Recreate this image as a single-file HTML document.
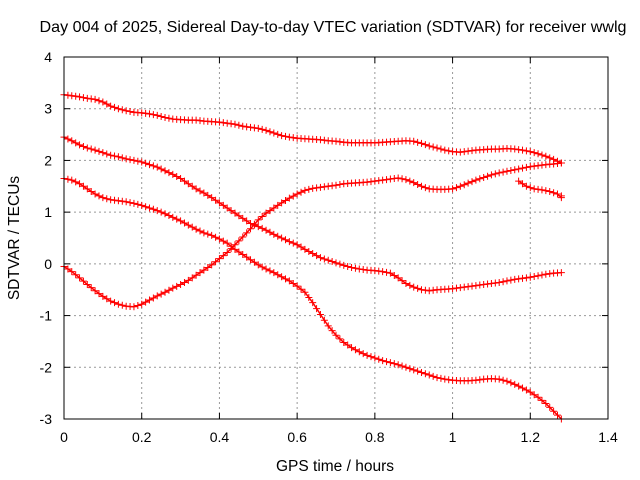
<!DOCTYPE html>
<html><head><meta charset="utf-8"><style>
body{margin:0;background:#fff;}
svg{display:block;font-family:"Liberation Sans",sans-serif;}
</style></head><body>
<svg id="chart" width="640" height="480">
<text x="333" y="32" font-size="16" textLength="587" lengthAdjust="spacingAndGlyphs" text-anchor="middle">Day 004 of 2025, Sidereal Day-to-day VTEC variation (SDTVAR) for receiver wwlg</text>
<text x="335" y="471" font-size="15.5" text-anchor="middle">GPS time / hours</text>
<text x="19" y="238" font-size="15.5" text-anchor="middle" transform="rotate(-90 19 238)">SDTVAR / TECUs</text>
<g id="grid"></g><g id="ticks"></g><g id="series"></g>
<rect x="64" y="57" width="544" height="362" fill="none" stroke="#000" stroke-width="1"/>
</svg>
<script>
const xTicks=[0,0.2,0.4,0.6,0.8,1,1.2,1.4];
const xTickLabels=["0","0.2","0.4","0.6","0.8","1","1.2","1.4"];
const yTicks=[-3,-2,-1,0,1,2,3,4];
const yTickLabels=["-3","-2","-1","0","1","2","3","4"];
const xs=[0,0.02,0.04,0.06,0.08,0.10,0.12,0.14,0.16,0.18,0.20,0.22,0.24,0.26,0.28,0.30,0.32,0.34,0.36,0.38,0.40,0.42,0.44,0.46,0.48,0.50,0.52,0.54,0.56,0.58,0.60,0.62,0.64,0.66,0.68,0.70,0.72,0.74,0.76,0.78,0.80,0.82,0.84,0.86,0.88,0.90,0.92,0.94,0.96,0.98,1.00,1.02,1.04,1.06,1.08,1.10,1.12,1.14,1.16,1.18,1.20,1.22,1.24,1.26,1.28];
const seriesA=[3.27,3.25,3.23,3.2,3.18,3.13,3.05,3.0,2.96,2.93,2.92,2.9,2.87,2.83,2.8,2.79,2.78,2.78,2.76,2.75,2.74,2.72,2.7,2.66,2.64,2.62,2.58,2.53,2.48,2.45,2.43,2.42,2.41,2.4,2.38,2.37,2.35,2.34,2.34,2.34,2.34,2.35,2.36,2.37,2.38,2.37,2.33,2.28,2.24,2.2,2.17,2.16,2.18,2.2,2.21,2.22,2.22,2.23,2.22,2.2,2.17,2.13,2.08,2.02,1.95];
const seriesB=[2.45,2.38,2.3,2.24,2.2,2.15,2.1,2.07,2.03,2.0,1.97,1.92,1.87,1.8,1.73,1.65,1.55,1.45,1.37,1.28,1.18,1.08,0.98,0.88,0.78,0.72,0.65,0.57,0.5,0.43,0.37,0.28,0.2,0.12,0.07,0.02,-0.03,-0.07,-0.1,-0.12,-0.13,-0.15,-0.18,-0.27,-0.38,-0.45,-0.5,-0.52,-0.5,-0.49,-0.48,-0.46,-0.44,-0.42,-0.4,-0.38,-0.36,-0.33,-0.3,-0.28,-0.26,-0.23,-0.2,-0.18,-0.17];
const seriesC=[1.65,1.62,1.55,1.45,1.35,1.28,1.24,1.22,1.2,1.17,1.13,1.08,1.03,0.97,0.9,0.83,0.75,0.67,0.6,0.55,0.48,0.4,0.28,0.18,0.08,-0.02,-0.1,-0.17,-0.25,-0.33,-0.43,-0.55,-0.75,-0.98,-1.2,-1.38,-1.52,-1.62,-1.7,-1.77,-1.82,-1.87,-1.91,-1.95,-2.0,-2.05,-2.1,-2.15,-2.2,-2.23,-2.25,-2.26,-2.26,-2.25,-2.23,-2.22,-2.23,-2.27,-2.33,-2.4,-2.48,-2.58,-2.7,-2.85,-3.0];
const seriesD=[-0.05,-0.15,-0.27,-0.4,-0.52,-0.63,-0.72,-0.78,-0.82,-0.83,-0.78,-0.7,-0.62,-0.55,-0.47,-0.4,-0.32,-0.22,-0.12,-0.02,0.1,0.22,0.37,0.52,0.68,0.85,0.98,1.08,1.18,1.27,1.35,1.42,1.46,1.48,1.5,1.52,1.55,1.56,1.57,1.58,1.6,1.62,1.64,1.66,1.63,1.57,1.5,1.45,1.44,1.44,1.45,1.5,1.56,1.62,1.67,1.72,1.76,1.79,1.82,1.85,1.88,1.9,1.92,1.93,1.95];
const xsE=[1.17,1.19,1.21,1.23,1.25,1.27,1.28];
const seriesE=[1.6,1.5,1.45,1.43,1.4,1.35,1.28];

const X0=64,X1=608,Y0=419,Y1=57;
const sx=v=>X0+(v-0)/(1.4-0)*(X1-X0);
const sy=v=>Y0-(v-(-3))/(4-(-3))*(Y0-Y1);
const NS="http://www.w3.org/2000/svg";
const grid=document.getElementById('grid'),ticks=document.getElementById('ticks'),ser=document.getElementById('series');
function mk(tag,attrs,parent){const e=document.createElementNS(NS,tag);for(const k in attrs)e.setAttribute(k,attrs[k]);parent.appendChild(e);return e;}
xTicks.forEach((t,i)=>{
  const x=sx(t);
  if(i>0&&i<xTicks.length-1){const g=mk('line',{x1:x,y1:Y0,x2:x,y2:Y1,stroke:'#999','stroke-dasharray':'2,3'},grid);
  
  }
  mk('line',{x1:x,y1:Y0,x2:x,y2:Y0-6,stroke:'#000'},ticks);
  mk('line',{x1:x,y1:Y1,x2:x,y2:Y1+6,stroke:'#000'},ticks);
  const l=mk('text',{x:x,y:Y0+23,'font-size':14,'text-anchor':'middle'},ticks);l.textContent=xTickLabels[i];
  
  
});
yTicks.forEach((t,i)=>{
  const y=sy(t);
  if(i>0&&i<yTicks.length-1){const g=mk('line',{x1:X0,y1:y,x2:X1,y2:y,stroke:'#999','stroke-dasharray':'2,3'},grid);
  
  }
  mk('line',{x1:X0,y1:y,x2:X0+6,y2:y,stroke:'#000'},ticks);
  mk('line',{x1:X1,y1:y,x2:X1-6,y2:y,stroke:'#000'},ticks);
  const l=mk('text',{x:X0-12,y:y+5,'font-size':14,'text-anchor':'end'},ticks);l.textContent=yTickLabels[i];
  
  
});
function drawSeries(xv,yv,name){
  const g=mk('g',{},ser);
  
  
  let d='';
  yv.forEach((v,i)=>{d+=(i?'L':'M')+sx(xv[i]).toFixed(1)+' '+sy(v).toFixed(1);});
  mk('path',{d:d,fill:'none',stroke:'#f00','stroke-width':1.5},g);
  yv.forEach((v,i)=>{
    const x=sx(xv[i]),y=sy(v);
    mk('path',{d:`M${x-3.5} ${y}h7M${x} ${y-3.5}v7`,stroke:'#f00','stroke-width':1},g);
    const mid=sx(xv[i])+3.9,midy=i<yv.length-1?sy((v+yv[i+1])/2):null;
    if(midy!==null) mk('path',{d:`M${mid-3.5} ${midy}h7M${mid} ${midy-3.5}v7`,stroke:'#f00','stroke-width':1},g);
  });
}
drawSeries(xs,seriesA,'series-a');
drawSeries(xs,seriesB,'series-b');
drawSeries(xs,seriesC,'series-c');
drawSeries(xs,seriesD,'series-d');
drawSeries(xsE,seriesE,'series-e');
</script>
</body></html>
